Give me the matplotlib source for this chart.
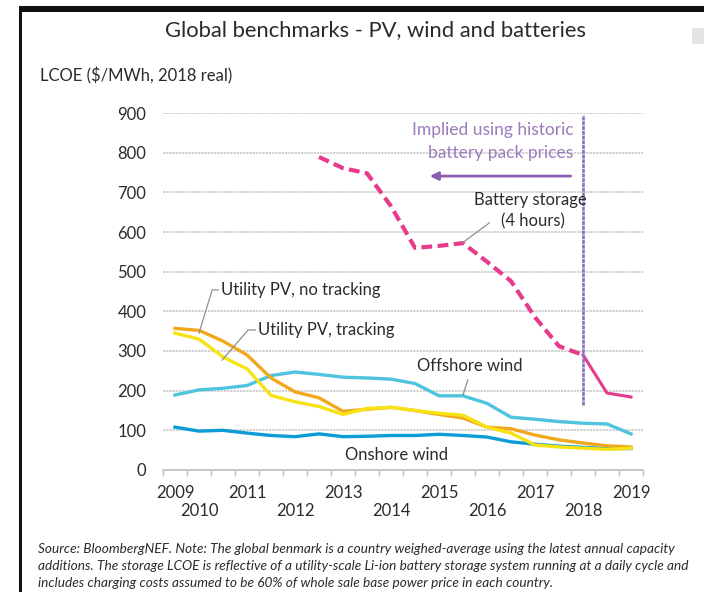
import matplotlib.pyplot as plt
from matplotlib.patches import Rectangle
import numpy as np

plt.rcParams['font.family'] = ['Lato', 'DejaVu Sans']

# Half-yearly benchmarks, 2H 2009 .. 1H 2019 (20 periods)
periods = np.arange(20)
year_labels = ['2009', '2010', '2011', '2012', '2013', '2014',
               '2015', '2016', '2017', '2018', '2019']
year_pos = [0, 1, 3, 5, 7, 9, 11, 13, 15, 17, 19]

onshore_wind = [108, 98, 100, 93, 87, 84, 91, 84, 85, 87,
                87, 90, 87, 83, 71, 65, 60, 57, 54, 54]
offshore_wind = [189, 202, 206, 213, 238, 247, 241, 234, 232, 229,
                 218, 187, 187, 168, 133, 128, 122, 118, 116, 91]
pv_no_tracking = [357, 352, 325, 290, 232, 197, 182, 148, 153, 158,
                  150, 140, 131, 108, 104, 88, 76, 68, 61, 58]
pv_tracking = [345, 330, 285, 255, 188, 172, 160, 140, 155, 158,
               150, 143, 138, 108, 93, 63, 58, 55, 52, 55]
# battery storage starts in 2H 2012; points before 1H 2018 are implied
battery_start = 6
battery = [789, 761, 748, 665, 560, 565, 572, 525, 476, 385, 312, 290, 194, 184]
split_idx = 17

fig = plt.figure(figsize=(7.04, 5.92), dpi=100)
ax = fig.add_axes([0.2315, 0.2061, 0.6819, 0.603])

for v in range(100, 1000, 100):
    ax.axhline(v, color='#c4c4c4', lw=1.1, ls=(0, (1.5, 0.6)), zorder=0)

lw = 2.4
ax.plot(periods, offshore_wind, color='#4ec4df', lw=lw, solid_joinstyle='round')
ax.plot(periods, onshore_wind, color='#0b9bd6', lw=lw, solid_joinstyle='round')
ax.plot(periods, pv_no_tracking, color='#f2a81d', lw=lw, solid_joinstyle='round')
ax.plot(periods, pv_tracking, color='#f7e312', lw=lw, solid_joinstyle='round')

bx = np.arange(battery_start, battery_start + len(battery))
by = np.array(battery)
cut = split_idx - battery_start
ax.plot(bx[:cut + 1], by[:cut + 1], color='#e83a8c', lw=3, ls=(0, (2.6, 1.3)))
ax.plot(bx[cut:], by[cut:], color='#e83a8c', lw=2.2)

# divider between implied and observed battery costs
ax.plot([split_idx, split_idx], [165, 895], color='#8a6fc2', lw=1.9, ls=(0, (1.5, 0.3)))
ax.annotate('', xy=(10.5, 741), xytext=(16.6, 741),
            arrowprops=dict(arrowstyle='-|>', color='#8b5cb3', lw=2,
                            mutation_scale=12))
ax.text(16.6, 857, 'Implied using historic', ha='right', va='center',
        fontsize=12.5, color='#9a7bbb')
ax.text(16.6, 799, 'battery pack prices', ha='right', va='center',
        fontsize=12.5, color='#9a7bbb')

txt = '#2b2b2b'
lead = '#909090'
ax.text(14.8, 681, 'Battery storage', ha='center', va='center', fontsize=12, color=txt)
ax.text(14.9, 628, '(4 hours)', ha='center', va='center', fontsize=12, color=txt)
ax.plot([13.1, 11.96], [623, 572], color=lead, lw=0.9)

ax.text(1.9, 454, 'Utility PV, no tracking', ha='left', va='center', fontsize=12, color=txt)
ax.plot([1.8, 1.55, 1.0], [454, 454, 345], color=lead, lw=0.9)
ax.text(3.46, 353, 'Utility PV, tracking', ha='left', va='center', fontsize=12, color=txt)
ax.plot([3.35, 3.05, 1.96], [353, 353, 277], color=lead, lw=0.9)
ax.text(10.1, 262, 'Offshore wind', ha='left', va='center', fontsize=12, color=txt)
ax.plot([12.2, 12.0], [227, 189], color=lead, lw=0.9)
ax.text(7.1, 38, 'Onshore wind', ha='left', va='center', fontsize=12, color=txt)

ax.set_xlim(-0.5, 19.5)
ax.set_ylim(0, 900)
ax.set_xticks(np.arange(-0.5, 20, 1))
ax.set_xticklabels([])
ax.set_yticks(range(0, 1000, 100))
ax.tick_params(axis='x', direction='out', length=4, color='#bdbdbd', width=1)
ax.tick_params(axis='y', length=0, pad=12, labelsize=12, labelcolor=txt)
for s in ['top', 'right', 'left']:
    ax.spines[s].set_visible(False)
ax.spines['bottom'].set_color('#bdbdbd')
ax.spines['bottom'].set_linewidth(1.2)

xt = ax.get_xaxis_transform()
for i, (lab, p) in enumerate(zip(year_labels, year_pos)):
    yy = -0.064 if i % 2 == 0 else -0.115
    ax.text(p, yy, lab, transform=xt, ha='center', va='center', fontsize=12, color=txt)

fig.text(0.533, 0.949, 'Global benchmarks - PV, wind and batteries', ha='center',
         va='center', fontsize=15.8, color=txt)
fig.text(0.057, 0.872, 'LCOE ($/MWh, 2018 real)', ha='left', va='center',
         fontsize=12, color=txt)

caption = ['Source: BloombergNEF. Note: The global benmark is a country weighed-average using the latest annual capacity',
           'additions. The storage LCOE is reflective of a utility-scale Li-ion battery storage system running at a daily cycle and',
           'includes charging costs assumed to be 60% of whole sale base power price in each country.']
for i, line in enumerate(caption):
    fig.text(38 / 704, 1 - (549 + 17 * i) / 592, line, ha='left', va='center',
             fontsize=9.8, style='italic', color=txt)

# frame edges
fig.add_artist(Rectangle((19 / 704, 1 - 12 / 592), 1, 6 / 592, transform=fig.transFigure,
                         color='#111111', lw=0))
fig.add_artist(Rectangle((19 / 704, 0), 3 / 704, 1 - 6 / 592, transform=fig.transFigure,
                         color='#111111', lw=0))
fig.add_artist(Rectangle((692 / 704, 1 - 44 / 592), 12 / 704, 16 / 592,
                         transform=fig.transFigure, color='#e4e4e4', lw=0))

fig.savefig('out.png', dpi=100)
